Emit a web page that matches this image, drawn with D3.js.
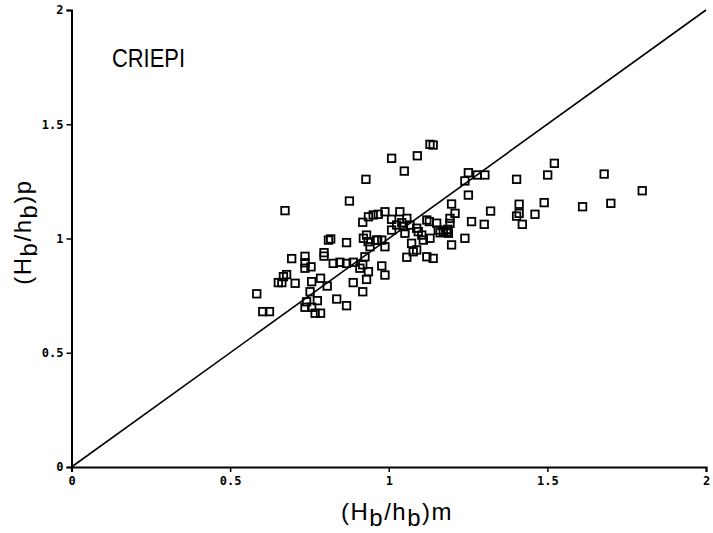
<!DOCTYPE html>
<html>
<head>
<meta charset="utf-8">
<script src="https://cdn.jsdelivr.net/npm/d3@7"></script>
<style>
  body { margin: 0; background: #fff; }
  .tick text { font-family: "DejaVu Sans Mono", monospace; font-weight: bold; font-size: 12px; }
</style>
</head>
<body>
<div id="chart"></div>
<script>
var measured = [
  0.584, 0.603, 0.624, 0.652, 0.663, 0.668, 0.678, 0.673, 0.694, 0.705,
  0.736, 0.736, 0.736, 0.755, 0.757, 0.752, 0.741, 0.775, 0.736, 0.757,
  0.768, 0.785, 0.785, 0.806, 0.796, 0.796, 0.810, 0.817, 0.825, 0.846,
  0.867, 0.888, 0.836, 0.867, 0.867, 0.876, 0.888, 0.918, 0.909, 0.936,
  0.930, 0.925, 0.918, 0.920, 0.930, 0.935, 0.941, 0.965, 0.918, 0.936,
  0.951, 0.967, 0.988, 0.928, 0.962, 0.978, 0.988, 0.978, 0.988, 1.009,
  1.049, 1.090, 1.130, 1.140, 1.009, 1.035, 1.057, 1.041, 1.025, 1.009,
  1.046, 1.067, 1.051, 1.088, 1.093, 1.104, 1.130, 1.072, 1.109, 1.088,
  1.077, 1.057, 1.120, 1.140, 1.120, 1.128, 1.151, 1.156, 1.162, 1.172,
  1.183, 1.193, 1.193, 1.186, 1.188, 1.198, 1.198, 1.209, 1.240, 1.240,
  1.251, 1.251, 1.261, 1.279, 1.303, 1.301, 1.321, 1.403, 1.411, 1.411,
  1.403, 1.421, 1.461, 1.490, 1.501, 1.522, 1.611, 1.679, 1.700, 1.799
];
var predicted = [
  0.758, 0.680, 0.680, 0.807, 0.807, 0.833, 0.842, 1.122, 0.912, 0.804,
  0.922, 0.894, 0.870, 0.876, 0.811, 0.767, 0.723, 0.728, 0.699, 0.699,
  0.673, 0.673, 0.826, 0.792, 0.938, 0.923, 0.993, 0.998, 0.891, 0.896,
  0.891, 0.896, 0.735, 0.706, 0.982, 1.164, 0.807, 0.767, 0.870, 0.855,
  0.821, 0.920, 0.885, 1.001, 1.015, 0.986, 0.964, 0.993, 1.071, 1.095,
  1.103, 1.106, 1.117, 1.259, 0.993, 0.993, 0.964, 0.880, 0.840, 1.351,
  1.295, 1.362, 1.412, 1.409, 1.084, 1.117, 1.088, 1.069, 1.059, 1.037,
  1.052, 1.059, 1.023, 1.045, 1.030, 1.015, 1.001, 0.979, 0.993, 0.950,
  0.942, 0.918, 0.920, 0.913, 1.081, 1.074, 1.067, 1.037, 1.025, 1.030,
  1.030, 1.088, 1.066, 1.040, 1.023, 0.972, 1.151, 1.110, 1.001, 1.252,
  1.288, 1.190, 1.074, 1.278, 1.278, 1.062, 1.120, 1.259, 1.150, 1.110,
  1.098, 1.062, 1.106, 1.157, 1.278, 1.329, 1.139, 1.282, 1.154, 1.209
];
var tickValues = [0, 0.5, 1, 1.5, 2];
var tickLabels = ["0", "0.5", "1", "1.5", "2"];
var refLine = [0, 2];

var width = 713,
    height = 533;

var x = d3.scaleLinear().domain([0, 2]).range([71.5, 706]);
var y = d3.scaleLinear().domain([0, 2]).range([467, 10]);

var svg = d3.select("#chart").append("svg")
    .attr("width", width)
    .attr("height", height)
    .style("background", "#fff");

// axes
var xAxis = d3.axisBottom(x)
    .tickValues(tickValues)
    .tickFormat(function(d, i) { return tickLabels[i]; })
    .tickSize(5)
    .tickPadding(4);

var yAxis = d3.axisLeft(y)
    .tickValues(tickValues)
    .tickFormat(function(d, i) { return tickLabels[i]; })
    .tickSize(5)
    .tickPadding(3);

var gx = svg.append("g")
    .attr("transform", "translate(0," + y(0) + ")")
    .call(xAxis);
var gy = svg.append("g")
    .attr("transform", "translate(" + x(0) + ",0)")
    .call(yAxis);

[gx, gy].forEach(function(g) {
  g.select(".domain").attr("stroke-width", 2);
  g.selectAll(".tick line").attr("stroke-width", 1.5);
  g.selectAll(".tick text").attr("fill", "#000");
});

// 1:1 line
var line = d3.line()
    .x(function(d) { return x(d); })
    .y(function(d) { return y(d); });

svg.append("path")
    .datum(refLine)
    .attr("d", line)
    .attr("fill", "none")
    .attr("stroke", "#000")
    .attr("stroke-width", 1.6);

// data squares
var pts = measured.map(function(m, i) { return [m, predicted[i]]; });
var s = 7.5;
svg.append("g").selectAll("rect")
    .data(pts)
    .enter()
    .append("rect")
    .attr("x", function(d) { return x(d[0]) - s / 2; })
    .attr("y", function(d) { return y(d[1]) - s / 2; })
    .attr("width", s)
    .attr("height", s)
    .attr("fill", "none")
    .attr("stroke", "#000")
    .attr("stroke-width", 1.8);

// annotation
svg.append("text")
    .attr("x", 112)
    .attr("y", 67)
    .attr("textLength", 73)
    .attr("lengthAdjust", "spacingAndGlyphs")
    .style("font-family", "Liberation Sans, Arial, sans-serif")
    .style("font-size", "25px")
    .text("CRIEPI");

// axis titles with subscripts
function title(t) {
  t.style("font-family", "Liberation Sans, Arial, sans-serif")
   .style("font-size", "24px")
   .style("letter-spacing", "1.5px")
   .attr("text-anchor", "middle");
  t.append("tspan").text("(H");
  t.append("tspan").attr("dy", 6).text("b");
  t.append("tspan").attr("dy", -6).text("/h");
  t.append("tspan").attr("dy", 6).text("b");
  t.append("tspan").attr("dy", -6).text(")");
}

var xt = svg.append("text")
    .attr("x", 397)
    .attr("y", 520);
title(xt);
xt.append("tspan").text("m");

var yt = svg.append("text")
    .attr("transform", "translate(31,232) rotate(-90)");
title(yt);
yt.append("tspan").text("p");
</script>
</body>
</html>
